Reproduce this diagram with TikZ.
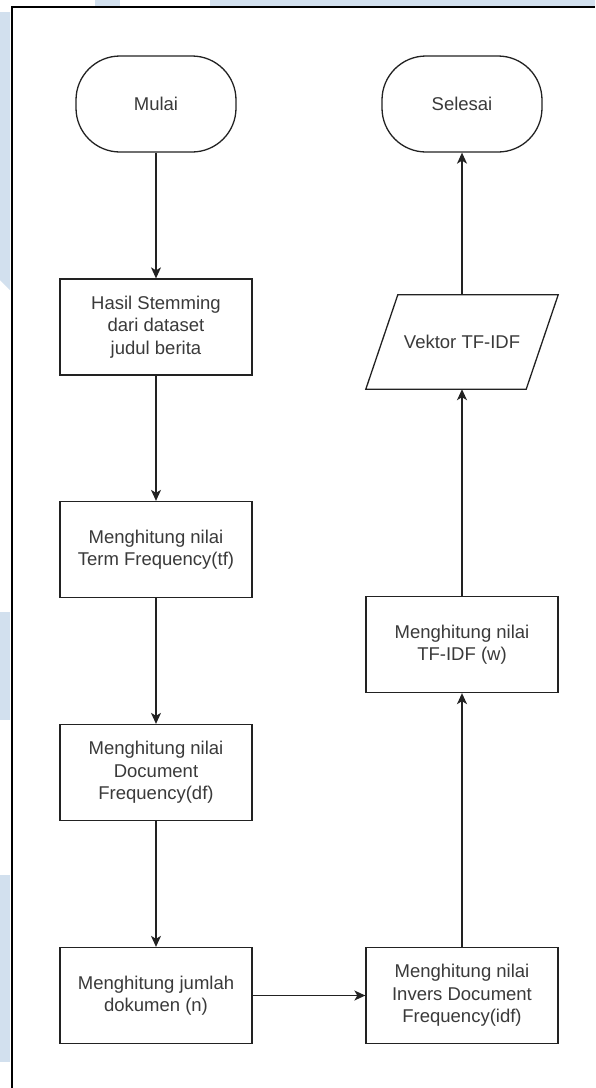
\documentclass[tikz,border=0pt]{standalone}
\usepackage{fontspec}
\setmainfont{Liberation Sans}
\usetikzlibrary{arrows.meta}

\definecolor{inkline}{HTML}{222222}
\definecolor{inktext}{HTML}{3A3A3A}
\definecolor{wmark}{HTML}{D2E0EE}

\tikzset{
  every node/.style={font=\fontsize{18.5}{22.5}\selectfont, text=inktext, align=center},
  procbox/.style={draw=inkline, line width=1.3pt, rectangle, minimum width=192pt, minimum height=96pt, inner sep=0pt},
  termbox/.style={draw=inkline, line width=1.3pt, rectangle, rounded corners=44pt, minimum width=160pt, minimum height=96pt, inner sep=0pt},
  iobox/.style={rectangle, minimum width=192pt, minimum height=94pt, inner sep=0pt},
  ioline/.style={draw=inkline, line width=1.3pt, line join=miter},
  flow/.style={draw=inkline, line width=1.3pt, -{Stealth[length=11pt,width=10pt,inset=3pt]}},
}

\begin{document}
\begin{tikzpicture}[x=1pt,y=-1pt]
  \useasboundingbox (0,0) rectangle (595,1088);
  \fill[white] (0,0) rectangle (595,1088);

  % faint background marks along the edges
  \fill[wmark] (0,12) -- (10,12) -- (10,290) -- (0,280) -- cycle;
  \fill[wmark] (95,0) rectangle (120,6);
  \fill[wmark] (210,0) rectangle (595,6);
  \fill[wmark] (0,612) rectangle (10,720);
  \fill[wmark] (0,875) rectangle (10,1062);

  % page frame
  \draw[line width=2pt, black] (11.5,1088) -- (11.5,7) -- (595,7);

  % left column
  \node[termbox] (mulai) at (156,104) {Mulai};
  \node[procbox] (stem) at (156,327) {Hasil Stemming\\dari dataset\\judul berita};
  \node[procbox] (tf) at (156,549.5) {Menghitung nilai\\Term Frequency(tf)};
  \node[procbox] (df) at (156,772.5) {Menghitung nilai\\Document\\Frequency(df)};
  \node[procbox] (jml) at (156,995.5) {Menghitung jumlah\\dokumen (n)};

  % right column
  \node[termbox] (selesai) at (462,104) {Selesai};
  \node[iobox] (vek) at (462,342) {Vektor TF-IDF};
  \draw[ioline] (vek.south west) -- ([xshift=-32pt]vek.south east)
    -- (vek.north east) -- ([xshift=32pt]vek.north west) -- cycle;
  \node[procbox] (tfidf) at (462,644.5) {Menghitung nilai\\TF-IDF (w)};
  \node[procbox] (idf) at (462,995.5) {Menghitung nilai\\Invers Document\\Frequency(idf)};

  % connectors
  \draw[flow] (mulai) -- (stem);
  \draw[flow] (stem) -- (tf);
  \draw[flow] (tf) -- (df);
  \draw[flow] (df) -- (jml);
  \draw[flow] (jml) -- (idf);
  \draw[flow] (idf) -- (tfidf);
  \draw[flow] (tfidf) -- (vek);
  \draw[flow] (vek) -- (selesai);
\end{tikzpicture}
\end{document}
